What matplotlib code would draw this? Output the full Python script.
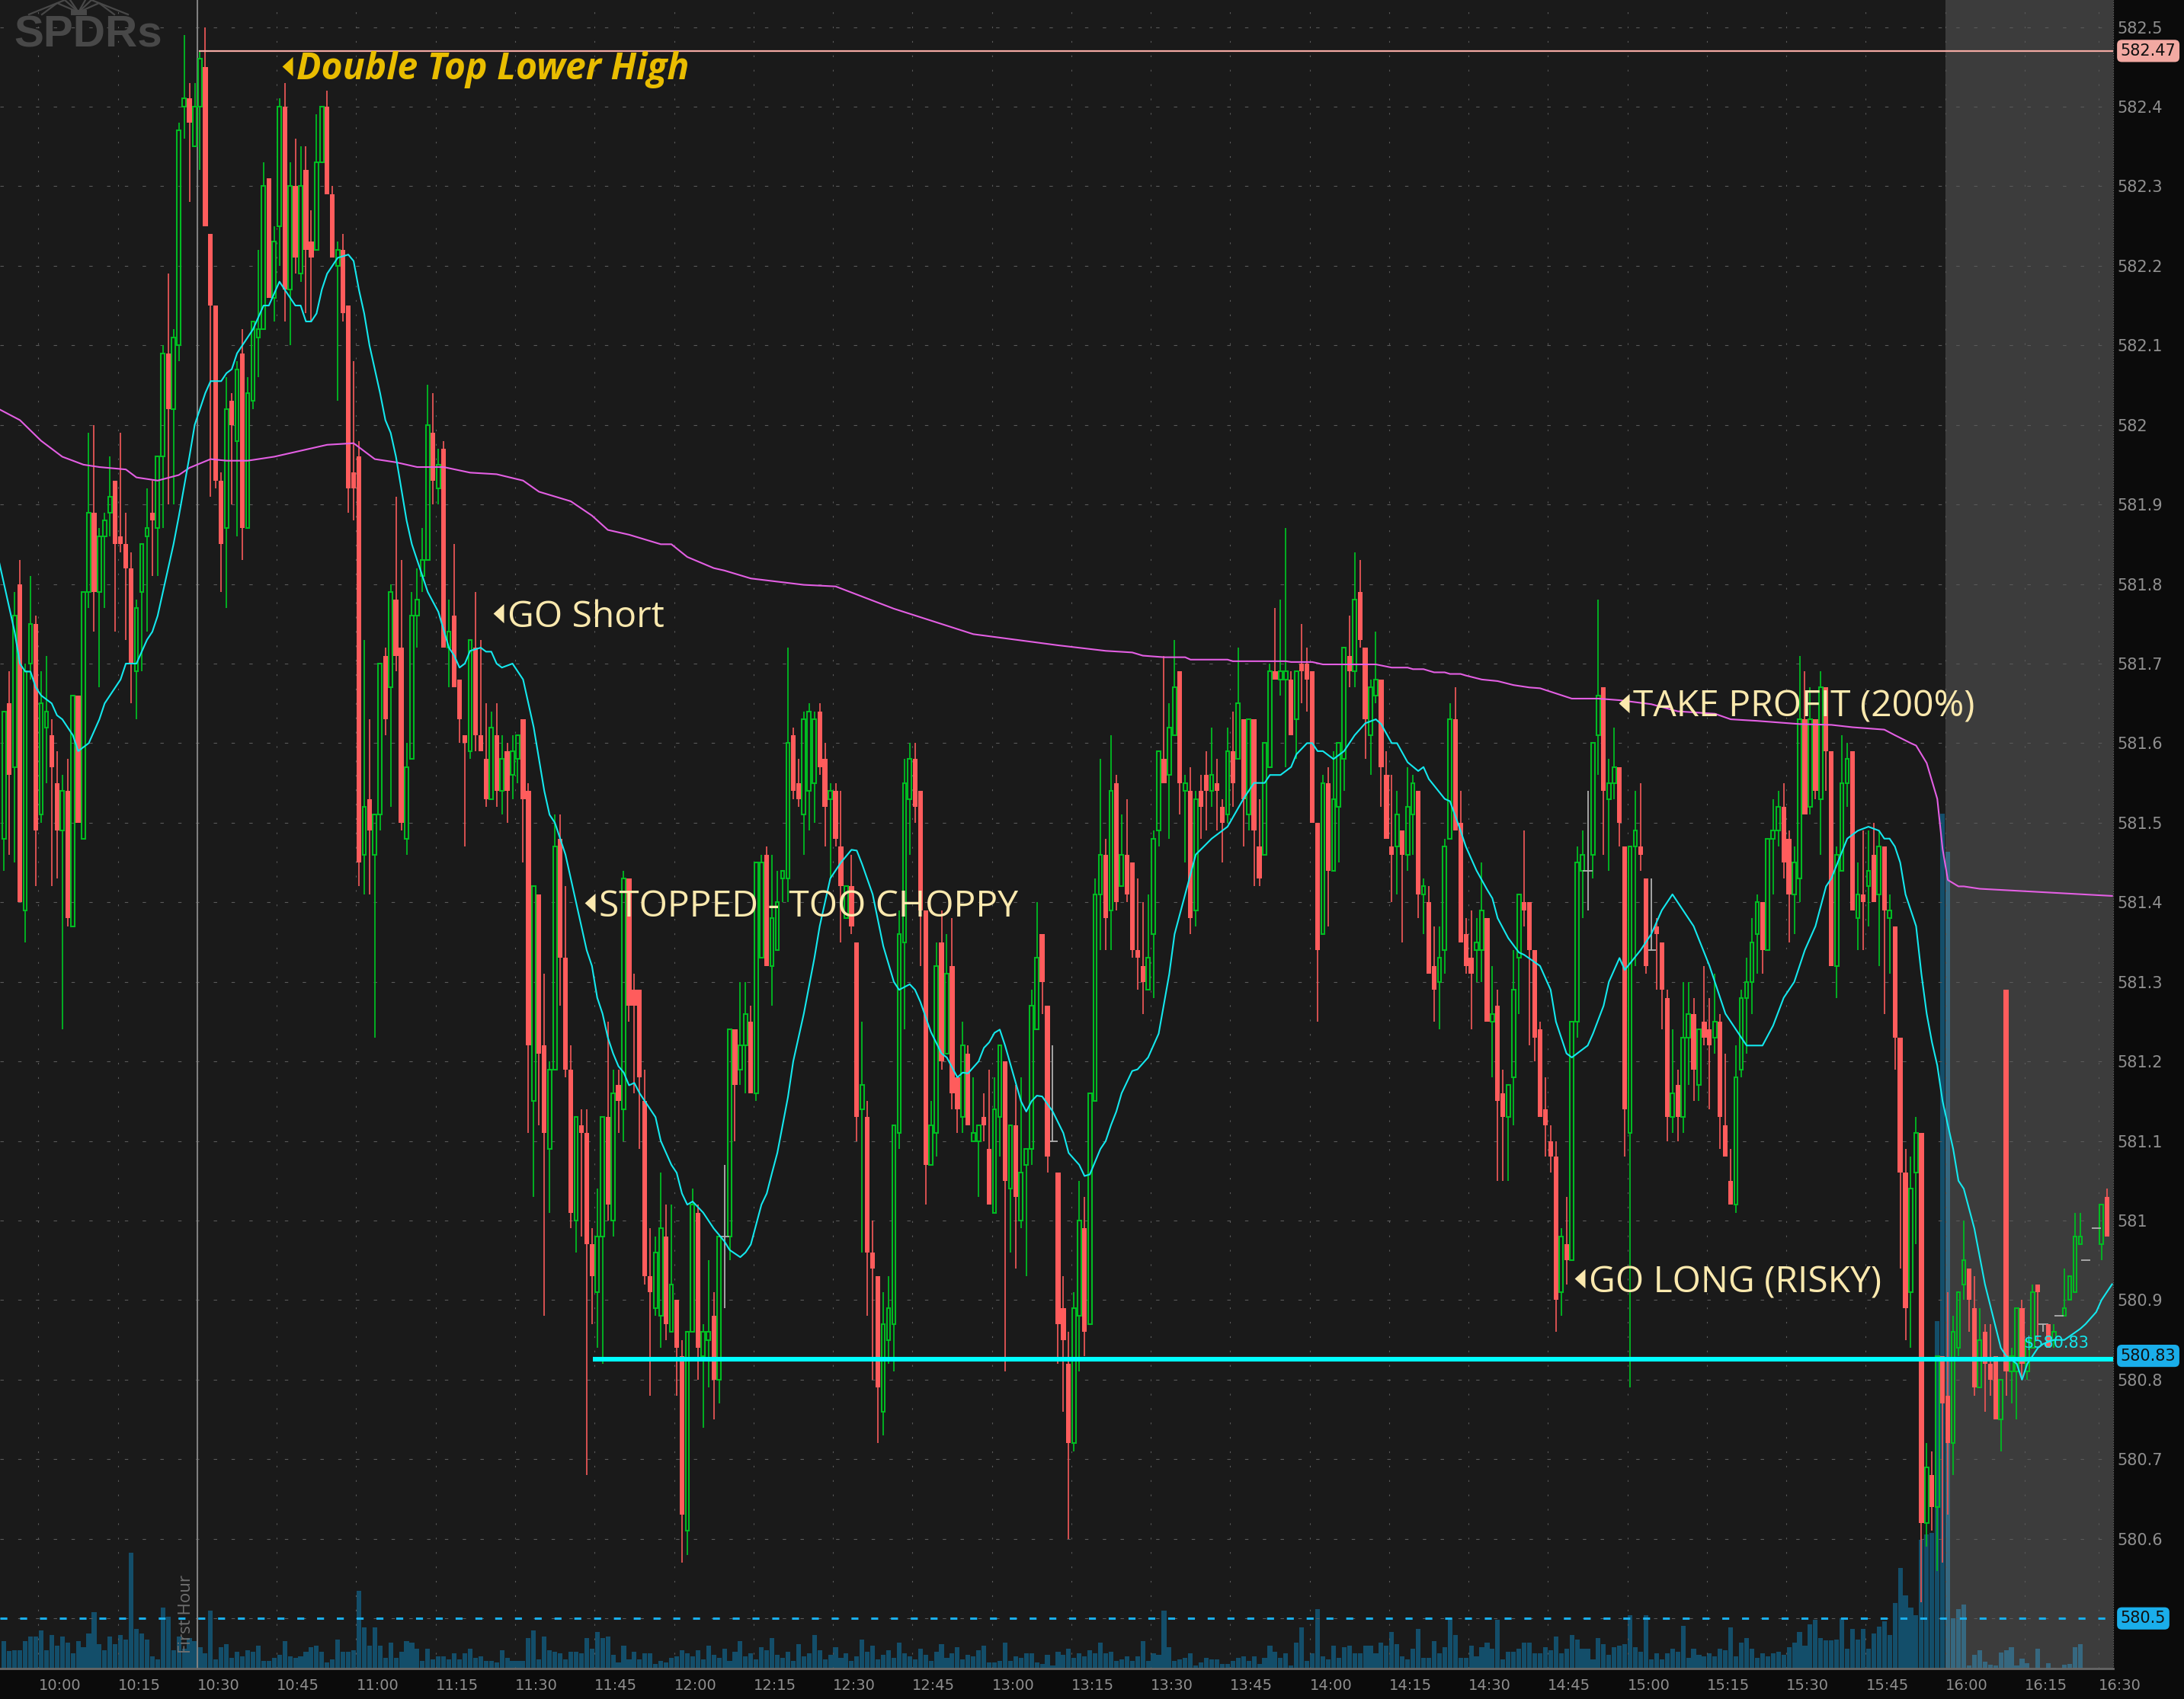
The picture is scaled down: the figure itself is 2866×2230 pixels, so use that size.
import matplotlib
matplotlib.use('Agg')
import matplotlib.pyplot as plt
from matplotlib.lines import Line2D
import numpy as np

nan = float('nan')

# all prices below are cents above 580.00, one entry per 1 minute bar
opens = [148,165,157,180,139,170,175,151,162,161,
    155,149,154,137,166,148,179,189,179,186,
    189,193,186,185,182,169,179,186,189,187,
    196,209,202,210,240,241,235,240,245,224,
    215,193,187,203,198,209,187,203,211,212,
    231,216,225,240,217,230,219,232,223,222,
    233,240,229,220,222,215,194,196,146,153,
    146,151,171,167,178,172,148,158,176,181,
    183,199,192,197,172,176,168,161,159,172,
    161,158,153,161,154,159,156,158,163,154,
    115,141,122,109,119,148,133,119,100,112,
    111,97,91,98,113,100,117,114,143,129,
    129,115,93,89,88,98,86,90,83,61,
    86,101,83,85,88,80,98,98,124,119,
    122,125,116,133,146,132,134,143,143,161,
    155,151,154,155,164,158,153,154,147,138,
    142,135,114,113,96,93,76,85,87,111,
    135,153,158,154,139,107,111,135,121,132,
    118,113,121,110,110,113,109,101,113,120,
    104,112,100,107,109,124,136,127,110,106,
    89,82,72,88,99,87,115,141,146,139,
    155,142,146,145,134,132,129,136,149,158,
    156,161,169,154,154,139,154,156,154,155,
    152,151,159,158,163,151,163,147,146,157,
    169,168,168,168,163,170,170,169,150,136,
    155,144,152,158,171,169,179,172,161,166,
    168,156,147,147,149,146,151,154,141,140,
    132,130,134,148,163,150,136,133,134,134,
    138,125,127,116,113,118,133,140,140,134,
    124,114,110,108,91,97,95,125,144,144,
    146,161,167,153,155,157,147,111,147,147,
    143,134,137,135,128,113,117,113,123,126,
    117,125,124,123,125,112,105,102,119,128,
    130,136,140,134,148,149,152,148,141,143,
    163,152,163,153,167,159,132,144,155,159,
    138,141,142,146,141,147,138,137,123,106,
    91,106,111,62,68,64,83,78,72,84,
    92,94,89,79,86,82,83,75,129,81,
    81,89,81,84,92,87,87,85,88,88,
    90,91,97,95,nan,99,97,103]
closes = [164,156,176,140,169,175,149,165,164,157,
    149,154,138,166,150,179,189,179,186,188,
    191,185,185,182,170,177,185,187,188,196,
    209,202,211,237,241,238,240,246,225,215,
    193,185,202,200,207,187,204,213,212,230,
    216,223,240,217,230,221,230,222,221,233,
    240,229,221,222,214,192,192,145,152,149,
    151,170,163,179,171,150,157,176,178,183,
    200,193,195,172,174,167,163,160,173,161,
    159,153,162,154,158,154,159,161,153,122,
    142,121,111,119,147,133,119,101,113,111,
    97,93,98,113,102,116,115,143,127,127,
    118,93,91,96,99,87,92,84,63,86,
    102,84,86,86,80,98,98,124,117,122,
    126,116,145,145,132,138,140,144,160,154,
    153,163,164,163,157,152,154,148,142,142,
    137,113,117,96,94,79,87,89,112,136,
    155,158,152,139,107,112,132,120,131,116,
    114,122,112,111,112,112,102,114,122,105,
    112,103,106,109,127,133,130,108,110,87,
    85,72,89,100,86,116,141,146,138,154,
    140,146,141,134,133,130,133,148,159,155,
    162,167,155,155,138,153,152,154,156,154,
    150,159,155,165,153,163,149,143,160,169,
    168,169,169,161,169,169,168,150,134,155,
    144,153,160,172,169,178,173,163,167,168,
    157,148,146,151,146,152,155,141,142,131,
    129,133,147,163,149,135,132,131,135,139,
    125,126,115,113,117,129,141,139,134,123,
    113,112,108,90,98,95,125,145,146,144,
    160,166,154,155,157,150,114,147,149,146,
    132,134,136,129,113,116,113,123,126,119,
    124,123,122,125,113,108,102,118,128,130,
    135,140,134,148,149,152,145,141,145,163,
    151,163,154,167,159,132,146,155,158,139,
    141,140,144,140,147,139,139,123,106,89,
    104,111,62,69,64,83,77,72,86,91,
    95,90,79,85,82,80,75,80,81,83,
    89,82,85,91,91,87,84,86,88,89,
    93,98,98,95,nan,99,102,98]
highs = [164,169,179,183,170,181,176,169,171,163,
    159,156,158,166,166,179,199,200,187,189,
    196,193,199,189,184,178,185,192,193,196,
    210,219,212,238,249,243,243,247,250,224,
    215,194,206,204,208,212,206,213,222,233,
    231,225,241,243,233,236,235,235,227,239,
    240,242,230,223,224,215,208,198,173,163,
    151,170,172,180,191,183,160,179,182,187,
    205,204,197,198,178,185,168,161,173,179,
    173,165,164,165,161,160,161,161,163,155,
    142,141,131,120,151,151,142,122,113,114,
    114,99,104,113,125,119,119,144,143,131,
    129,119,99,98,106,102,102,90,85,86,
    104,102,87,95,91,98,107,124,124,130,
    130,127,145,146,147,146,144,144,172,162,
    158,164,165,164,165,160,155,155,154,142,
    146,135,125,115,100,93,91,93,112,139,
    158,160,160,154,139,115,135,139,136,138,
    118,125,122,118,112,116,119,118,122,120,
    112,117,118,109,129,140,136,127,122,106,
    93,86,91,105,103,116,143,158,148,161,
    156,151,153,145,143,140,141,149,159,171,
    165,173,169,156,157,154,156,159,162,158,
    153,162,164,172,163,163,163,153,160,170,
    177,178,187,169,169,175,172,169,150,156,
    157,159,160,172,176,184,183,172,168,174,
    168,159,156,154,149,157,156,154,143,142,
    137,137,148,165,167,154,138,139,138,145,
    138,132,129,119,117,134,141,149,140,134,
    125,118,112,110,99,103,125,147,149,154,
    160,178,167,158,162,157,147,147,154,155,
    143,143,138,135,129,124,119,130,130,128,
    124,132,128,131,126,121,109,122,129,133,
    138,141,140,148,153,154,155,149,147,171,
    169,167,163,169,167,159,147,161,160,159,
    145,149,149,150,149,147,141,137,123,109,
    108,113,111,72,71,83,83,91,88,91,
    100,94,93,89,87,87,83,80,129,84,
    89,90,85,92,92,87,87,87,88,94,
    93,101,101,95,nan,99,102,104]
lows = [144,146,145,140,135,168,142,150,155,142,
    143,124,137,137,150,148,177,174,167,177,
    186,174,184,173,165,163,169,174,181,181,
    187,190,190,208,236,228,235,232,225,191,
    192,179,177,190,186,183,187,202,206,212,
    216,213,220,213,210,219,218,214,213,222,
    233,229,221,203,213,189,188,142,141,141,
    123,149,161,152,169,149,146,158,172,179,
    183,190,190,172,167,167,160,147,158,159,
    159,152,153,152,151,150,153,155,145,111,
    103,112,88,101,119,127,118,99,96,98,
    68,87,84,82,100,98,111,110,125,116,
    109,92,78,88,84,85,86,78,57,58,
    86,80,74,79,75,77,89,95,110,117,
    116,116,115,133,132,127,134,140,140,153,
    152,146,149,150,156,147,143,147,135,138,
    136,110,96,88,80,72,73,82,81,109,
    124,146,150,132,102,107,108,119,121,114,
    111,111,112,110,103,110,102,101,108,81,
    96,94,99,93,107,124,126,106,110,82,
    76,60,71,81,83,87,115,134,134,134,
    139,142,140,133,129,126,129,128,147,155,
    148,161,151,145,136,137,148,149,152,149,
    145,150,152,158,147,149,142,142,146,157,
    168,166,157,161,158,165,164,150,125,136,
    137,144,145,154,167,167,172,158,156,165,
    152,148,140,141,135,144,146,138,136,131,
    125,124,131,148,149,135,131,124,130,130,
    125,118,105,105,105,112,126,137,122,120,
    113,108,106,86,88,92,95,123,138,139,
    143,156,146,144,153,147,108,79,132,144,
    131,134,129,124,110,111,110,111,117,115,
    115,122,114,121,109,108,102,101,118,121,
    126,131,131,134,141,147,143,135,136,140,
    151,151,153,146,154,132,128,144,152,139,
    134,134,137,140,132,126,131,119,94,85,
    84,97,52,59,61,56,57,63,68,83,
    90,86,78,79,76,78,75,71,78,77,
    75,80,80,84,85,86,84,84,88,88,
    90,91,97,95,nan,99,95,98]

volume = [108,68,72,72,108,126,126,150,72,132,
    90,126,102,60,108,84,138,222,96,72,
    126,96,132,114,456,156,138,114,48,36,
    240,204,72,126,78,120,108,84,60,228,
    36,84,96,42,66,48,72,66,90,30,
    30,42,54,108,48,42,48,66,84,90,
    66,24,36,114,66,66,72,306,162,90,
    162,90,42,102,42,66,108,102,78,30,
    78,36,48,48,36,60,36,60,78,42,
    48,30,30,24,72,42,30,30,30,120,
    150,36,126,72,66,60,36,66,66,60,
    120,78,144,120,126,54,24,90,36,66,
    36,60,60,18,30,24,42,48,72,
    60,48,72,36,90,54,42,78,30,66,108,48,60,36,84,72,120,54,42,66,
    30,96,48,60,132,72,36,54,84,42,60,30,48,114,66,90,36,54,72,42,
    102,60,48,36,78,54,30,66,96,42,60,84,36,54,48,72,90,
    24,
    24,30,102,30,48,42,60,60,24,18,
    54,12,66,54,78,42,60,48,72,60,
    102,60,66,30,36,48,30,48,108,30,
    60,54,228,84,30,36,42,60,12,24,
    42,36,36,18,18,30,42,48,30,48,
    18,42,90,66,42,60,12,102,162,30,
    60,234,48,36,90,42,84,90,60,60,
    90,90,60,102,90,144,96,48,36,78,
    156,42,42,108,60,84,198,132,42,42,
    90,48,84,102,78,192,36,66,66,78,
    102,102,60,60,84,72,126,60,78,132,
    114,78,78,36,120,96,54,84,90,96,
    210,84,66,210,36,60,36,60,78,66,
    168,42,78,54,48,60,48,78,72,162,
    48,102,120,78,
    43,59,48,59,67,54,83,102,143,90,
    173,191,121,110,111,114,197,79,156,114,
    156,79,137,165,186,133,257,395,289,241,
    210,508,527,535,1369,3366,3216,197,233,252,
    11,54,71,27,16,11,63,71,83,11,
    40,22,0,78,0,22,3,0,14,19,
    83,95,0,0,0,0,0]

ema_x = [-1,0,2,3,4,5,6,7,9,10,11,13,14,16,17,18,19,20,21,22,23,25,27,28,29,30,31,32,33,35,36,38,39,41,42,43,44,45,47,49,50,52,53,55,56,57,58,59,60,61,63,65,66,67,68,69,70,71,72,73,74,75,76,77,79,80,82,84,85,86,87,88,90,91,92,93,94,96,97,98,99,100,101,102,103,104,106,107,109,110,111,112,113,114,115,116,117,118,119,120,123,124,126,127,128,129,130,132,134,136,137,139,140,141,143,144,145,146,147,148,149,151,153,154,156,158,160,161,162,164,166,168,169,171,172,173,175,177,178,180,181,182,184,185,186,187,188,189,192,193,194,195,196,198,200,201,203,204,205,207,208,209,210,211,213,214,216,218,220,221,223,225,228,231,234,236,238,239,241,243,244,246,247,248,249,251,253,255,257,259,260,262,263,265,267,268,269,272,273,275,276,278,280,281,282,284,286,287,290,292,293,295,296,299,300,302,303,305,306,309,311,313,315,317,319,322,323,325,326,329,331,332,334,336,338,339,340,342,344,345,348,350,352,354,355,356,357,358,359,361,362,363,364,365,366,368,369,370,372,374,377,378,380,381,382,384,385,387,389,392,393,395,396,398]
ema_y = [183,180,174,170,169,169,167,166,165,163.5,163,161,159,160,161.5,163,165,166,167,168,170,170,173,174,176,179,182,185,188.5,196,200,204,205.5,205.5,206.5,207,209,210,212,215,215,218,217,215,215,213,213,214,217,219,221,221.4,220.6,217,214,210,207,204,200.6,199,196,192,188,185,181,179,176.5,172,171,169.5,170,171.6,172,171.5,171.5,170,169.5,170,169,168,165,162,158,154,151,150,146,143,137,134,132,128,126,123,121,119.4,118.6,117,117.3,116,113,110,107,106,103.4,102,102.4,101,99,97.4,96.3,95.4,96,97,102,103.4,106,108.5,112,115.5,120,126,133,137,143,145,146.6,146.5,144.8,141,134.5,130,129,129.7,129,127.5,123.7,121,120.5,118,118.6,118.5,120,121.7,122.4,123.6,124,122,115,113.7,115,115.7,115.6,113.7,111,108.5,107,105.6,105.8,109,110,112,113.7,116,118.8,119,120.5,123.5,131,136,141,146,148,149.5,153,155,155,156,156,157,158.6,160,160,159,159,158,159,161,162.5,163,162.4,160,160,157.6,156.5,157,155.5,153,152.7,149,147,144,141.6,140.5,138,135.5,133.7,133.4,132,129,125,121,120.5,122,123.5,127,130,133,131.5,134,136,139,141,139,137,132,130,126,125,122,122,122,124.5,128,130,132,134,137,142,143,148,149,149.5,149,148,148,147,145,141,137,131,126,122.4,119.5,115,109,105,104,99,92,84,83,82,80,82,84,84.5,85,85,86.4,87,88.5,90,92]

vwap_x = [-1,3,7,11,15,18,23,25,29,33,35,39,42,46,51,55,61,66,70,74,78,83,88,93,98,101,107,111,114,118,124,126,129,134,136,141,151,157,168,183,199,208,213,215,219,223,224,231,232,242,243,247,249,259,262,265,266,268,270,272,273,275,276,279,282,285,288,290,296,301,305,311,316,323,326,331,339,345,349,355,357,360,361,363,365,366,367,369,370,373,398]
vwap_y = [202,200.6,198,196,195,194.7,194.4,193.4,193,193.7,194.6,195.7,195.5,195.5,196,196.6,197.5,197.7,195.7,195.3,194.7,194.7,194,193.8,193,191.6,190.4,188.6,186.8,186.2,185,185,183.4,182,181.7,180.7,179.9,179.7,176.9,173.7,172.3,171.6,171.4,171,170.8,170.8,170.5,170.5,170.3,170.3,170.2,170.2,169.9,169.9,169.5,169.5,169.3,169.3,168.9,168.9,168.7,168.7,168.5,168,167.8,167.3,167,166.9,165.6,165.6,165.4,164.9,164,163.7,163,162.8,162.4,162.3,162,161.7,161,160,159.7,157.5,153,146.7,142.8,142,142,141.7,140.8]

time_labels = ['10:00','10:15','10:30','10:45','11:00','11:15','11:30','11:45','12:00','12:15','12:30','12:45','13:00',
               '13:15','13:30','13:45','14:00','14:15','14:30','14:45','15:00','15:15','15:30','15:45','16:00','16:15','16:30']
time_ticks = [6.5 + 15*i for i in range(26)] + [395.5]
price_ticks = [580.6,580.7,580.8,580.9,581,581.1,581.2,581.3,581.4,581.5,581.6,581.7,581.8,581.9,
               582,582.1,582.2,582.3,582.4,582.5]

first_hour_bar = 36.46
close_bar = 366.5
resist_price = 582.47
support_price = 580.83
support_line = 580.826
volume_avg_price = 580.5

notes = ['Double Top Lower High', 'GO Short', 'STOPPED - TOO CHOPPY', 'TAKE PROFIT (200%)', 'GO LONG (RISKY)']
note_bar = [55.2, 95.1, 112.3, 307.5, 299.2]
note_price = [582.434, 581.746, 581.382, 581.633, 580.91]

bg = '#1a1a1a'
green = '#00bb22'
red = '#ff5c5c'
wick_red = '#e65555'
note_col = '#fbe9ae'
tag_blue = '#1aaeea'

o = 580 + np.array(opens) / 100
c = 580 + np.array(closes) / 100
h = 580 + np.array(highs) / 100
l = 580 + np.array(lows) / 100
bars = np.arange(len(o))
up = c > o
down = c < o
flat = c == o
top = np.maximum(o, c)
bot = np.minimum(o, c)

W, H = 2866, 2230
fig = plt.figure(figsize=(W / 100, H / 100), dpi=100, facecolor='#0b0b0b')
ax_vol = fig.add_axes([0, 40 / H, 2773 / W, 2190 / H], facecolor=bg)
ax = ax_vol.twinx()
ax_vol.set_zorder(1)
ax.set_zorder(2)
ax.patch.set_visible(False)

# volume goes behind, the after hours shade lies on it
ax_vol.bar(bars, volume, width=0.88, color='#134e6a', zorder=2)
ax_vol.axvspan(close_bar, 398.2, color='white', alpha=0.148, lw=0, zorder=3)
ax_vol.set_ylim(0, 6570)
ax_vol.set_yticks([])

# twinx hides the x axis of ax, so the time labels sit on ax_vol
ax_vol.set_xlim(-0.76, 398.2)
ax_vol.set_xticks(time_ticks)
ax_vol.set_xticklabels(time_labels, ha='left')
ax_vol.tick_params(axis='x', length=0, labelcolor='#8f8f8f', labelsize=14, pad=9)

ax.set_ylim(580.437, 582.534)
ax.set_yticks(price_ticks)
ax.set_yticklabels(['%g' % p for p in price_ticks])
ax.yaxis.tick_right()
ax.tick_params(axis='y', length=0, labelcolor='#8f8f8f', labelsize=15, pad=4)
ax.vlines(time_ticks, 580.437, 582.534, color='#5a5a5a', lw=0.8, ls=(0, (2, 15)), zorder=1)
ax.hlines(price_ticks + [volume_avg_price], -0.76, 398.2, color='#5a5a5a', lw=0.8,
          ls=(0, (4, 17)), zorder=1)
for side in ['top', 'left']:
    ax.spines[side].set_visible(False)
    ax_vol.spines[side].set_visible(False)
ax_vol.spines['right'].set_visible(False)
ax.spines['bottom'].set_color('#666666')
ax.spines['bottom'].set_linewidth(2)
ax_vol.spines['bottom'].set_visible(False)
ax.spines['right'].set_color('#555555')
ax.spines['right'].set_linewidth(0.8)
ax.spines['right'].set_linestyle((0, (1, 2)))

ax.axvline(first_hour_bar, color='#808080', lw=1.5, zorder=2)
ax.text(first_hour_bar - 2.0, 580.456, 'First Hour', rotation=90, color='#707070', fontsize=16,
        ha='center', va='bottom', family='Open Sans', zorder=2)

# candles, green ones are hollow
ax.vlines(bars[up], top[up], h[up], color=green, lw=1.3, zorder=4)
ax.vlines(bars[up], l[up], bot[up], color=green, lw=1.3, zorder=4)
ax.bar(bars[up], (c - o)[up], bottom=o[up], width=0.68, facecolor='none', edgecolor=green, lw=1.5, zorder=4)
ax.vlines(bars[down], l[down], h[down], color=wick_red, lw=1.3, zorder=5)
ax.bar(bars[down], (o - c)[down], bottom=c[down], width=0.9, color=red, lw=0, zorder=5)
ax.vlines(bars[flat], l[flat], h[flat], color='#b0b0b0', lw=1.3, zorder=4)
ax.hlines(c[flat], bars[flat] - 0.9, bars[flat] + 0.9, color='#b0b0b0', lw=1.3, zorder=4)

ax.plot(vwap_x, 580 + np.array(vwap_y) / 100, color='#e35fe3', lw=1.5, zorder=6)
ax.plot(ema_x, 580 + np.array(ema_y) / 100, color='#14e8ee', lw=1.5, zorder=7)

ax.plot([37, 398.2], [resist_price, resist_price], color='#f2a9a2', lw=1.6, zorder=7)
ax.plot([111.2, 398.2], [support_line, support_line], color='#00ffff', lw=4.4, solid_capstyle='butt', zorder=8)
ax.plot([-0.76, 398.2], [volume_avg_price, volume_avg_price], color=tag_blue, lw=2.2,
        ls=(0, (3, 5.5)), zorder=8)

ax.text(381.3, 580.846, '$580.83', color='#14e8ee', fontsize=15, va='center', ha='left', zorder=9)

# price tags on the right edge
for price, bgcol, label in [(resist_price, '#f2a9a2', '582.47'), (support_price, tag_blue, '580.83'),
                            (volume_avg_price, tag_blue, '580.5')]:
    ax.annotate(label, (1, price), xycoords=ax.get_yaxis_transform(), xytext=(7, 0),
                textcoords='offset points', color='#101010', fontsize=15, ha='left', va='center',
                annotation_clip=False, zorder=10,
                bbox=dict(boxstyle='round,pad=0.22,rounding_size=0.3', fc=bgcol, ec='none'))

# trade notes with their little arrows
tri = [(0, -1), (0, 1), (-1.1, 0)]
for i, (txt, xb, yp) in enumerate(zip(notes, note_bar, note_price)):
    if i == 0:
        ax.text(xb, yp, txt, color='#e9bd00', fontsize=34.6, family='Open Sans', weight='bold',
                style='italic', va='baseline', ha='left', zorder=11)
    else:
        ax.text(xb, yp, txt, color=note_col, fontsize=34.6, family='Open Sans', va='baseline',
                ha='left', zorder=11)
    ax.plot([xb - 0.7], [yp + 0.017], marker=tri, ms=20, color='#e9bd00' if i == 0 else note_col,
            mew=0, zorder=11)

# SPDRs watermark, the spider is only a few strokes
fig.text(18 / W, 1 - 62 / H, 'SPDRs', color='#484848', fontsize=42, weight='bold',
         family='Liberation Sans', ha='left', va='baseline', zorder=12)
legs = [[(103, 16), (75, 4), (55, 19)], [(103, 16), (85, 0), (38, 19)], [(103, 16), (92, 0)],
        [(103, 16), (130, 4), (150, 19)], [(103, 16), (120, 0), (168, 19)], [(103, 16), (112, 0)]]
for leg in legs:
    xs = [p[0] / W for p in leg]
    ys = [1 - p[1] / H for p in leg]
    fig.add_artist(Line2D(xs, ys, color='#484848', lw=1.6, transform=fig.transFigure))
fig.add_artist(Line2D([96 / W, 110 / W], [1 - 16 / H, 1 - 16 / H], color='#484848', lw=5, transform=fig.transFigure))

fig.savefig('out.png', dpi=100, facecolor=fig.get_facecolor())
